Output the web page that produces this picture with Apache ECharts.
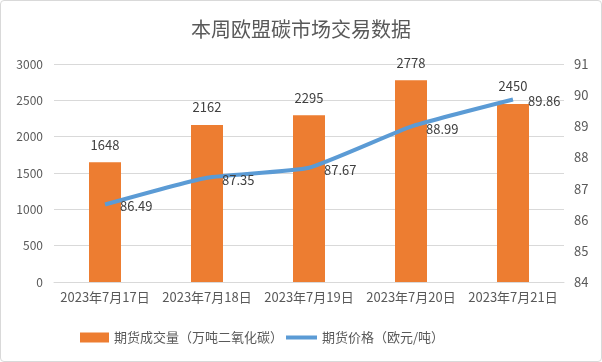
<!DOCTYPE html>
<html><head><meta charset="utf-8">
<script src="https://cdn.jsdelivr.net/npm/echarts@6/dist/echarts.min.js"></script>
<style>html,body{margin:0;padding:0;background:#fff}#c{width:600px;height:360px;border:1px solid #d9d9d9;border-radius:4px}</style>
</head><body><div id="c"></div>
<script>
const categories = ['2023年7月17日','2023年7月18日','2023年7月19日','2023年7月20日','2023年7月21日'];
const volume = [1648, 2162, 2295, 2778, 2450];
const price = [86.49, 87.35, 87.67, 88.99, 89.86];
const volumeName = '期货成交量（万吨二氧化碳）';
const priceName = '期货价格（欧元/吨）';
const ff = '"Noto Sans CJK SC", "Liberation Sans", sans-serif';
const chart = echarts.init(document.getElementById('c'));
chart.setOption({
  animation: false,
  title: {text: '本周欧盟碳市场交易数据', left: 'center', top: 13,
    textStyle: {fontFamily: ff, fontSize: 20, fontWeight: 'normal', color: '#595959'}},
  legend: [
    {left: 79, top: 330, padding: 0, itemWidth: 29, itemHeight: 10, itemGap: 5,
      textStyle: {fontFamily: ff, fontSize: 13, color: '#595959'},
      data: [{name: volumeName, icon: 'rect'}]},
    {left: 285, top: 330, padding: 0, itemWidth: 31, itemHeight: 4,
      textStyle: {fontFamily: ff, fontSize: 13, color: '#595959'},
      data: [{name: priceName, icon: 'rect'}]}
  ],
  grid: {left: 53, right: 37, top: 63, bottom: 79, containLabel: false},
  xAxis: {type: 'category', data: categories,
    axisLine: {lineStyle: {color: '#d9d9d9'}}, axisTick: {show: false},
    axisLabel: {fontFamily: ff, fontSize: 13, color: '#595959', margin: 9, interval: 0}},
  yAxis: [
    {type: 'value', min: 0, max: 3000, interval: 500,
      axisLine: {show: false}, axisTick: {show: false},
      splitLine: {lineStyle: {color: '#d9d9d9'}},
      axisLabel: {fontFamily: ff, fontSize: 12, color: '#595959', margin: 11, formatter: v => String(v)}},
    {type: 'value', min: 84, max: 91, interval: 1,
      axisLine: {show: false}, axisTick: {show: false}, splitLine: {show: false},
      axisLabel: {fontFamily: ff, fontSize: 13, color: '#595959', margin: 10}}
  ],
  series: [
    {name: volumeName, type: 'bar', data: volume, barWidth: 32,
      itemStyle: {color: '#ed7d31'},
      label: {show: true, position: 'top', distance: 11, fontFamily: ff, fontSize: 13, color: '#404040'}},
    {name: priceName, type: 'line', yAxisIndex: 1, data: price, smooth: 0.15,
      symbol: 'circle', symbolSize: 0, showSymbol: true,
      lineStyle: {color: '#5b9bd5', width: 4}, itemStyle: {color: '#5b9bd5'},
      label: {show: true, position: 'right', distance: 15, offset: [0, 2], fontFamily: ff, fontSize: 13, color: '#404040'}}
  ]
});
</script></body></html>
